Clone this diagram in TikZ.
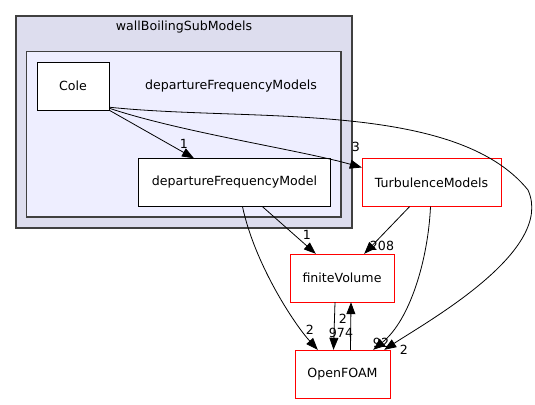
\documentclass[tikz,border=0pt]{standalone}
\usepackage{fontspec}
\setmainfont{DejaVu Sans}
\usetikzlibrary{arrows.meta, positioning, calc}

\definecolor{outerfill}{HTML}{DDDDEE}
\definecolor{innerfill}{HTML}{EEEEFF}
\definecolor{frame}{HTML}{404040}

\begin{document}
\begin{tikzpicture}[x=1pt,y=-1pt,>={Triangle[length=12pt,width=9pt]},
    font=\fontsize{12.6}{14}\selectfont,
    dirbox/.style={rectangle, draw=black, fill=white, inner sep=0pt, minimum height=48pt},
    extbox/.style={rectangle, draw=red, fill=white, inner sep=0pt, minimum height=48pt},
    dep/.style={->, black, line width=0.8pt},
    count/.style={inner sep=0pt, fill=none}]
  \useasboundingbox (0,0) rectangle (535,404);

  % Package boxes
  \draw[frame, fill=outerfill, line width=1.2pt] (16,16) rectangle (352,228);
  \node (outer) at (184,27) {wallBoilingSubModels};
  \draw[frame, fill=innerfill, line width=1.2pt] (26.5,51.5) rectangle (341,217);
  \node (inner) at (231,86) {departureFrequencyModels};

  % Directories
  \node[dirbox, minimum width=72pt]  (cole)  at (73,86)    {Cole};
  \node[dirbox, minimum width=192pt] (dfm)   at (234.5,182.5) {departureFrequencyModel};
  \node[extbox, minimum width=139pt] (turb)  at (431.5,182.5) {TurbulenceModels};
  \node[extbox, minimum width=104pt] (fvol)  at (342,278)  {finiteVolume};
  \node[extbox, minimum width=95pt]  (ofoam) at (342.5,374) {OpenFOAM};

  % Dependencies of Cole
  \draw[dep] (cole.south east) -- (dfm.north west -| 194,0) node[count, at={(184,144)}] {1};
  \draw[dep] ($(cole.south east)+(0,-2)$) .. controls (180,132) and (300,150) .. ($(turb.west)+(0,-15)$)
    node[count, at={(356,147)}] {3};
  \draw[dep] ($(cole.south east)+(0,-3)$) .. controls (250,122) and (455,100) .. (528,190)
    .. controls (555,250) and (430,320) .. ($(ofoam.north east)+(-6,0)$)
    node[count, at={(404,350)}] {2};

  % Dependencies of departureFrequencyModel
  \draw[dep] ($(dfm.south)+(28,0)$) -- ($(fvol.north west)+(26,0)$) node[count, at={(307,235)}] {1};
  \draw[dep] ($(dfm.south)+(8,0)$) .. controls (255,265) and (295,325) .. ($(ofoam.north west)+(23,0)$)
    node[count, at={(310,330)}] {2};

  % Dependencies of TurbulenceModels
  \draw[dep] ($(turb.south)+(-22,0)$) -- ($(fvol.north east)+(-30,0)$) node[count, at={(382,246)}] {208};
  \draw[dep] ($(turb.south)+(-1,0)$) .. controls (428,260) and (410,320) .. ($(ofoam.north east)+(-17,0)$)
    node[count, at={(381,343)}] {92};

  % finiteVolume and OpenFOAM
  \draw[dep] ($(fvol.south)+(-7,0)$) -- ($(ofoam.north)+(-9,0)$) node[count, at={(341,333)}] {974};
  \draw[dep] ($(ofoam.north)+(8,0)$) -- ($(fvol.south)+(9,0)$) node[count, at={(343,319)}] {2};
\end{tikzpicture}
\end{document}
